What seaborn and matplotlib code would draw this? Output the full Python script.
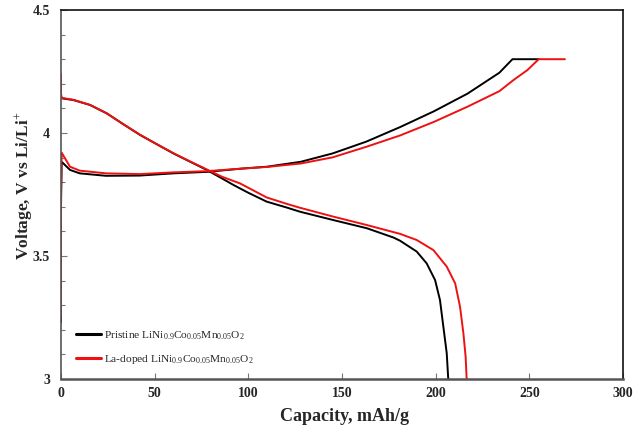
import matplotlib
matplotlib.use("Agg")
import matplotlib.pyplot as plt
import seaborn as sns
import pandas as pd
from matplotlib.ticker import MultipleLocator

# ---- data ----
pristine_charge_cap = [0, 0, 0.35, 4.8, 10, 24, 42, 60, 78, 96, 110, 128, 145, 163, 181, 199, 217, 234, 241, 255]
pristine_charge_v = [3.23, 3.70, 3.883, 3.85, 3.836, 3.826, 3.827, 3.836, 3.842, 3.855, 3.863, 3.883, 3.917, 3.965, 4.024, 4.088, 4.16, 4.245, 4.30, 4.30]

la_charge_cap = [0, 0, 0.35, 4.8, 10, 24, 42, 60, 78, 96, 110, 128, 145, 163, 181, 199, 217, 234, 241.5, 249, 255, 269]
la_charge_v = [3.26, 3.75, 3.92, 3.863, 3.847, 3.836, 3.833, 3.84, 3.845, 3.855, 3.862, 3.876, 3.901, 3.944, 3.99, 4.045, 4.107, 4.17, 4.215, 4.256, 4.30, 4.30]

pristine_dis_cap = [0, 0.35, 6.6, 15.5, 24.4, 33, 42.2, 51, 60, 69, 77.8, 86, 92, 100, 109.8, 120.5, 127.6, 145.4, 163.2, 177.5, 181, 189.9, 195.2, 199.7, 202.3, 204.1, 205.9, 206.8]
pristine_dis_v = [4.15, 4.141, 4.134, 4.114, 4.08, 4.037, 3.992, 3.955, 3.917, 3.883, 3.85, 3.815, 3.789, 3.757, 3.721, 3.697, 3.68, 3.646, 3.613, 3.575, 3.562, 3.518, 3.47, 3.402, 3.321, 3.213, 3.105, 2.99]

la_dis_cap = [0, 0, 0.35, 6.6, 15.5, 24.4, 33, 42.2, 51, 60, 69, 77.8, 86, 95.6, 109.8, 120.5, 127.6, 145.4, 163.2, 181, 189.9, 198.8, 205.9, 210.4, 213, 214.8, 216, 216.6]
la_dis_v = [4.24, 4.16, 4.143, 4.135, 4.114, 4.08, 4.037, 3.993, 3.955, 3.918, 3.884, 3.852, 3.822, 3.795, 3.738, 3.712, 3.696, 3.66, 3.626, 3.59, 3.565, 3.524, 3.457, 3.389, 3.294, 3.186, 3.09, 2.99]

labels = ["Pristine LiNi$_{0.9}$Co$_{0.05}$Mn$_{0.05}$O$_2$",
          "La-doped LiNi$_{0.9}$Co$_{0.05}$Mn$_{0.05}$O$_2$"]
colors = ["#000000", "#ee1111"]

x_ticks = [0, 50, 100, 150, 200, 250, 300]
y_ticks = [3, 3.5, 4, 4.5]
y_tick_labels = ["3", "3.5", "4", "4.5"]

# ---- style ----
sns.set_theme(style="white")
plt.rcParams["font.family"] = ["Liberation Serif", "DejaVu Serif"]
plt.rcParams["mathtext.fontset"] = "custom"
plt.rcParams["mathtext.rm"] = "Liberation Serif"
plt.rcParams["mathtext.it"] = "Liberation Serif:italic"
plt.rcParams["mathtext.bf"] = "Liberation Serif:bold"

fig = plt.figure(figsize=(6.44, 4.28), dpi=100)
ax = fig.add_axes([61 / 644, 1 - 379 / 428, 562 / 644, 369 / 428])

curves = [
    (pristine_charge_cap, pristine_charge_v, 0, None),
    (pristine_dis_cap, pristine_dis_v, 0, labels[0]),
    (la_charge_cap, la_charge_v, 1, None),
    (la_dis_cap, la_dis_v, 1, labels[1]),
]
for cap, v, ci, lab in curves:
    df = pd.DataFrame({"cap": cap, "v": v})
    sns.lineplot(data=df, x="cap", y="v", sort=False, estimator=None,
                 color=colors[ci], linewidth=1.4, ax=ax, label=lab)

ax.set_xlim(0, 300)
ax.set_ylim(3, 4.5)
ax.set_xticks(x_ticks)
ax.set_xticklabels([str(t) for t in x_ticks], fontweight="bold", fontsize=10)
ax.set_yticks(y_ticks)
ax.set_yticklabels(y_tick_labels, fontweight="bold", fontsize=10)
ax.yaxis.set_minor_locator(MultipleLocator(0.1))
ax.tick_params(axis="both", which="major", direction="in", length=4, width=0.8,
               color="#777777", bottom=True, left=True)
ax.tick_params(axis="y", which="major", pad=8)
ax.tick_params(axis="y", which="minor", direction="in", length=3, width=0.8,
               color="#777777", left=True)
ax.tick_params(axis="x", which="major", pad=6)

ax.set_xlabel("Capacity, mAh/g", fontsize=13, fontweight="bold")
ax.set_ylabel("Voltage, V vs Li/Li$^{+}$", fontsize=12.5, fontweight="bold")
ax.xaxis.set_label_coords(0.505, -0.078)
ax.yaxis.set_label_coords(-0.047, 0.523)

for name, sp in ax.spines.items():
    sp.set_visible(True)
    sp.set_color("#111111")
    sp.set_linewidth(1.2)
ax.spines["bottom"].set_color("#555555")
ax.spines["bottom"].set_linewidth(1.8)
ax.spines["left"].set_color("#555555")

leg = ax.legend(loc="lower left", bbox_to_anchor=(0.008, 0.008), frameon=False,
                fontsize=8.2, handlelength=2.2, handletextpad=0.3, labelspacing=0.95)
for line in leg.get_lines():
    line.set_linewidth(2.2)

fig.savefig("out.png", dpi=100)
